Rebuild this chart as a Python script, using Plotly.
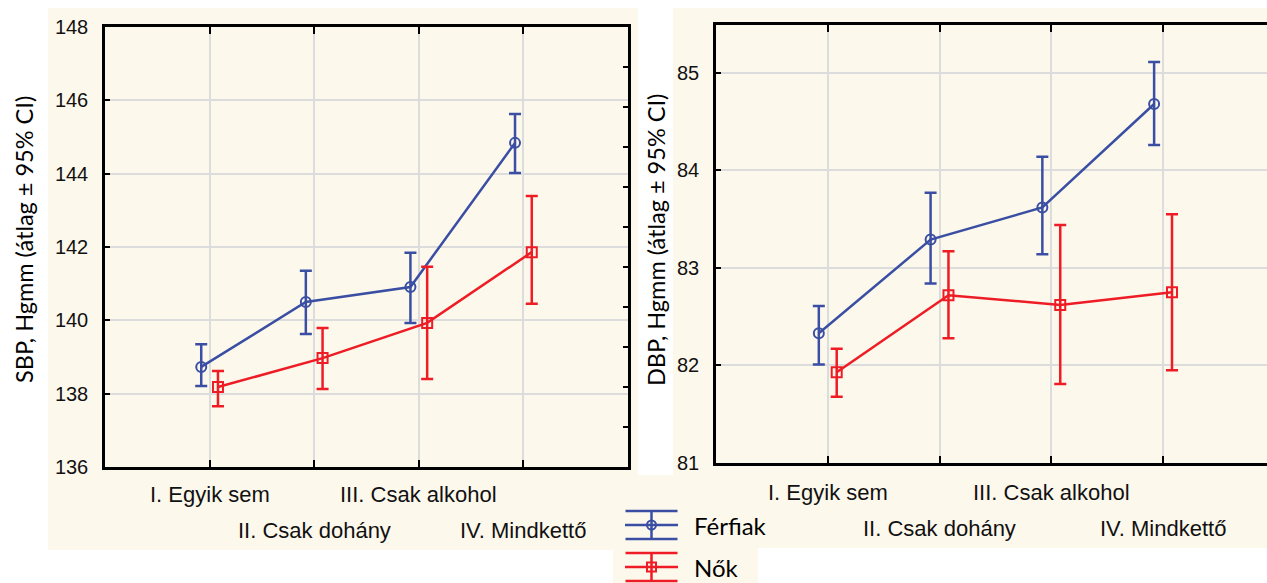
import plotly.graph_objects as go

W, H = 1267, 583

categories = ["I. Egyik sem", "II. Csak dohány", "III. Csak alkohol", "IV. Mindkettő"]
series_names = ["Férfiak", "Nők"]

sbp_men = [138.73, 140.50, 140.91, 144.84]
sbp_men_lo = [138.21, 139.63, 139.93, 144.02]
sbp_men_hi = [139.35, 141.35, 141.84, 145.63]
sbp_women = [138.18, 138.97, 139.93, 141.86]
sbp_women_lo = [137.66, 138.13, 138.40, 140.45]
sbp_women_hi = [138.62, 139.79, 141.46, 143.39]

dbp_men = [82.33, 83.29, 83.62, 84.68]
dbp_men_lo = [82.01, 82.84, 83.14, 84.26]
dbp_men_hi = [82.61, 83.77, 84.14, 85.11]
dbp_women = [81.93, 82.72, 82.62, 82.75]
dbp_women_lo = [81.68, 82.28, 81.81, 81.95]
dbp_women_hi = [82.17, 83.17, 83.44, 83.55]

sbp_ticks = [136, 138, 140, 142, 144, 146, 148]
dbp_ticks = [81, 82, 83, 84, 85]

BLUE = "#3a4fa3"
RED = "#ee1c25"
BEIGE = "#fdf8ec"
GRID = "#dcdcdc"
ARIAL = "Liberation Sans, Arial, sans-serif"
HUMAN = "Lato, Open Sans, sans-serif"


def px(x):
    return x / W


def py(y):
    return (H - y) / H


fig = go.Figure()

OFF = 0.08
idx = list(range(len(categories)))


def add_series(mean, lo, hi, color, symbol, xa, ya, sign):
    fig.add_trace(go.Scatter(
        x=[i + sign * OFF for i in idx], y=mean, xaxis=xa, yaxis=ya,
        mode="lines+markers", showlegend=False, cliponaxis=False,
        line=dict(color=color, width=2.5),
        marker=dict(symbol=symbol, size=10, color=color, line=dict(color=color, width=2)),
        error_y=dict(type="data", symmetric=False,
                     array=[h - m for h, m in zip(hi, mean)],
                     arrayminus=[m - l for m, l in zip(mean, lo)],
                     color=color, thickness=2.5, width=6),
    ))


add_series(sbp_men, sbp_men_lo, sbp_men_hi, BLUE, "circle-open", "x", "y", -1)
add_series(sbp_women, sbp_women_lo, sbp_women_hi, RED, "square-open", "x", "y", 1)
add_series(dbp_men, dbp_men_lo, dbp_men_hi, BLUE, "circle-open", "x2", "y2", -1)
add_series(dbp_women, dbp_women_lo, dbp_women_hi, RED, "square-open", "x2", "y2", 1)

# helper trace for the right-side tick axis of the left panel
fig.add_trace(go.Scatter(x=[None], y=[None], xaxis="x", yaxis="y3", showlegend=False))

# legend glyphs (own small axes)
for row, (name, color, symbol) in enumerate(zip(series_names, [BLUE, RED], ["circle-open", "square-open"])):
    yv = 58 - 42 * row
    fig.add_trace(go.Scatter(x=[-1, 1], y=[yv, yv], xaxis="x3", yaxis="y4", mode="lines",
                             line=dict(color=color, width=2.5), showlegend=False, cliponaxis=False))
    fig.add_trace(go.Scatter(x=[0], y=[yv], xaxis="x3", yaxis="y4", mode="markers",
                             marker=dict(symbol=symbol, size=9, color=color, line=dict(color=color, width=2)),
                             error_y=dict(type="constant", value=14, color=color, thickness=2.5, width=26),
                             showlegend=False, cliponaxis=False))

axis_common = dict(showline=True, linecolor="black", linewidth=2.5, ticks="inside",
                   tickcolor="black", tickwidth=2, zeroline=False, showgrid=True,
                   gridcolor=GRID, gridwidth=1.5, automargin=False)

fig.update_layout(
    width=W, height=H, margin=dict(l=0, r=0, t=0, b=0, pad=0, autoexpand=False),
    paper_bgcolor="white", plot_bgcolor="white", showlegend=False,
    xaxis=dict(domain=[px(105), px(628)], range=[-1, 4], anchor="y",
               tickvals=idx, ticktext=["" for _ in idx], mirror="ticks", ticklen=7, **axis_common),
    yaxis=dict(domain=[py(467), py(27)], range=[136, 148], anchor="x",
               tickvals=sbp_ticks, ticklen=5, mirror=True, ticklabelstandoff=10,
               tickfont=dict(family=ARIAL, size=20, color="#111"), **axis_common),
    yaxis3=dict(overlaying="y", side="right", anchor="x", range=[0, 11], dtick=1,
                ticks="inside", ticklen=5, tickwidth=2, tickcolor="black", automargin=False,
                showticklabels=False, showgrid=False, zeroline=False, showline=False),
    xaxis2=dict(domain=[px(716), 1.0], range=[-1, 3.93], anchor="y2",
                tickvals=idx, ticktext=["" for _ in idx], mirror="ticks", ticklen=7, **axis_common),
    yaxis2=dict(domain=[py(463), py(25)], range=[81, 85.49], anchor="x2",
                tickvals=dbp_ticks, ticklen=5, ticklabelstandoff=10,
                tickfont=dict(family=ARIAL, size=20, color="#111"), **axis_common),
    xaxis3=dict(domain=[px(625), px(678)], range=[-1, 1], anchor="y4", visible=False, automargin=False),
    yaxis4=dict(domain=[0, py(500)], range=[0, 83], anchor="x3", visible=False, automargin=False),
)

# background panels
shapes = []
for (x0, y0, x1, y1) in [(48, 8, 638, 550), (673, 8, W, 548), (638, 475, 673, 548), (613, 548, 758, H)]:
    shapes.append(dict(type="rect", xref="paper", yref="paper", x0=px(x0), x1=px(x1),
                       y0=py(y1), y1=py(y0), fillcolor=BEIGE, line=dict(width=0), layer="below"))
fig.update_layout(shapes=shapes)

annotations = []
# staggered category labels
for xa, rows in [("x", (494, 530)), ("x2", (492, 528))]:
    for i, cat in enumerate(categories):
        annotations.append(dict(x=i, xref=xa, y=py(rows[i % 2]), yref="paper", text=cat,
                                showarrow=False, xanchor="center", yanchor="middle",
                                font=dict(family=ARIAL, size=22, color="#111")))
# y-axis titles
for xc, label in [(24, "SBP, Hgmm (átlag ± 95% CI)"), (656, "DBP, Hgmm (átlag ± 95% CI)")]:
    annotations.append(dict(x=px(xc), y=py(240), xref="paper", yref="paper", text=label,
                            textangle=-90, showarrow=False, xanchor="center", yanchor="middle",
                            font=dict(family=HUMAN, size=23.5, color="black")))
# legend texts
for row, name in enumerate(series_names):
    annotations.append(dict(x=px(692), y=py(525 + 42 * row), xref="paper", yref="paper", text=name,
                            showarrow=False, xanchor="left", yanchor="middle",
                            font=dict(family=HUMAN, size=24, color="black")))
fig.update_layout(annotations=annotations)

fig.write_html("out.html", config={"displayModeBar": False},
               post_script="document.body.style.margin='0';")
